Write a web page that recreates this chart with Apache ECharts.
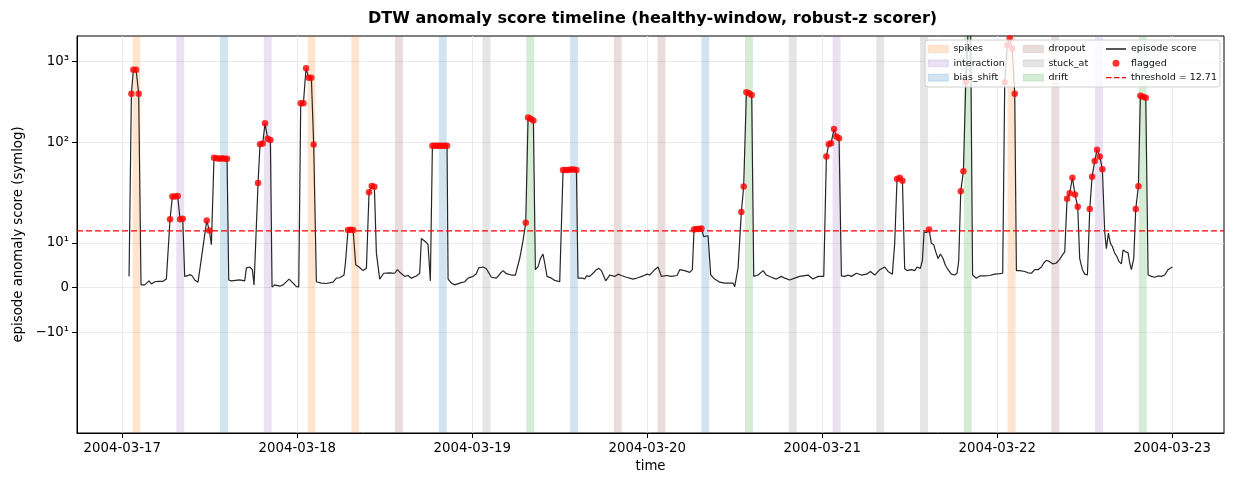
<!DOCTYPE html>
<html>
<head>
<meta charset="utf-8">
<script src="https://cdn.jsdelivr.net/npm/echarts@6/dist/echarts.min.js"></script>
<style>
html,body{margin:0;padding:0;background:#fff;}
#chart{width:1243px;height:485px;}
</style>
</head>
<body>
<div id="chart"></div>
<script>
// ---------------- data (hours since 2004-03-17 00:00) ----------------
const scoreHours = [
0.94,1.26,1.53,1.90,2.26,2.58,3.09,3.68,4.00,4.46,4.91,5.60,6.06,6.29,6.56,6.88,7.25,7.61,7.93,8.30,
8.57,8.89,9.26,9.62,9.94,10.40,10.63,11.59,11.95,12.23,12.59,12.96,13.33,13.69,14.06,14.38,14.61,14.97,15.20,16.11,
16.80,17.03,17.49,17.85,18.08,18.63,18.90,19.27,19.59,19.95,20.32,20.55,20.91,21.60,22.06,22.88,23.43,23.89,24.21,24.48,
24.85,25.21,25.58,25.94,26.26,26.63,27.31,28.00,28.91,29.37,29.83,30.42,30.61,30.97,31.31,31.66,32.02,32.48,33.03,33.49,
33.85,34.22,34.58,34.86,35.31,35.86,36.69,37.37,37.74,38.15,38.74,39.20,39.66,40.34,40.80,41.03,41.71,41.94,42.26,42.54,
42.88,43.22,43.55,43.89,44.22,44.55,44.69,45.14,45.60,46.29,46.97,47.43,48.11,48.57,48.89,49.49,49.94,50.63,51.31,51.86,
52.23,52.69,53.37,53.92,54.51,54.97,55.34,55.66,56.02,56.39,56.66,57.03,57.35,57.71,57.94,58.26,58.86,59.31,60.00,60.23,
60.46,60.82,61.19,61.55,61.92,62.29,62.51,63.11,63.43,63.66,64.11,64.57,65.03,65.39,65.71,66.31,66.86,67.54,68.00,68.46,
69.14,70.06,70.74,71.43,71.98,72.34,73.03,73.49,73.94,74.63,75.31,76.09,76.46,77.14,77.83,78.19,78.42,78.74,79.11,79.43,
79.75,80.02,80.34,80.71,81.26,81.94,82.63,83.31,83.77,84.00,84.46,84.91,85.23,85.60,85.97,86.33,86.61,87.20,87.89,88.34,
89.03,89.71,90.40,90.86,91.54,92.23,92.91,94.06,94.74,95.43,96.21,96.57,96.89,97.21,97.62,97.94,98.31,98.63,99.09,99.54,
100.00,100.69,101.37,102.06,102.61,103.20,103.89,104.57,105.03,105.62,105.94,106.26,106.63,107.00,107.31,107.63,108.23,108.69,109.00,109.46,
109.74,109.97,110.29,110.65,110.97,111.29,111.57,111.89,112.21,112.57,112.89,113.26,113.71,114.17,114.49,114.72,115.00,115.36,115.69,116.02,
116.35,116.62,116.78,117.14,117.60,118.29,118.97,119.66,120.34,120.75,121.03,121.37,121.71,122.06,122.40,122.63,123.09,123.77,124.23,124.69,
125.14,125.60,126.06,126.38,126.74,127.20,127.66,128.11,128.57,128.94,129.26,129.58,129.94,130.31,130.67,131.04,131.31,131.68,132.00,132.37,
132.69,133.01,133.37,133.69,134.06,134.42,134.74,134.97,135.25,135.52,135.79,136.11,136.43,136.71,137.03,137.26,137.62,137.94,138.17,138.40,
138.72,139.00,139.36,139.63,140.00,140.37,140.69,141.14,141.60,142.06,142.51,142.97,143.43,144.02
];
const scoreValues = [
2.5,400,795,795,400,0.6,0.6,1.5,0.8,1.3,1.4,1.4,1.9,2.1,15.3,21,21,21.3,15.3,15.4,
2.5,2.6,2.9,2.6,1.7,1.2,1.2,15,12.8,9.6,64,63,62,63,62,62,1.7,1.5,1.9,1.7,
1.5,4.4,4.6,4.0,0.6,31,94,96,172,110,106,0.1,0.6,0.3,0.6,1.9,1.0,0.2,0.15,304,
304,830,630,630,93,1.3,1.0,0.9,1.2,2.1,2.2,2.8,5.5,12.9,12.95,12.9,5.1,4.6,3.8,4.3,
23.7,28.5,27.9,7.7,1.9,3.2,3.3,3.2,4.0,3.3,2.5,2.7,2.1,2.6,3.2,11,10.1,9.6,1.5,90,
90,90,90,90,90,90,1.9,1.0,0.6,1.0,1.3,2.1,2.5,3.1,4.4,4.6,4.2,2.3,2.1,3.2,
3.8,3.1,2.8,2.8,6.5,10.5,14.5,203,195,185,4.0,4.7,6.5,7.5,5.5,2.5,2.1,1.6,1.3,1.3,
45,45,45,45.5,45.5,45,2.1,2.1,1.9,2.6,2.5,3.2,4.0,4.3,3.8,1.5,2.8,2.5,3.0,2.7,
2.3,1.9,2.2,2.6,3.0,2.8,4.0,4.6,2.5,2.7,2.5,2.7,4.0,3.8,3.4,4.0,13.0,13.1,13.1,13.2,
11.4,11.0,11.6,2.8,1.9,1.2,1.0,1.0,1.0,0.2,4.4,16.9,28,417,405,385,2.5,2.8,3.8,2.8,
2.3,1.9,2.5,2.1,1.7,2.1,2.5,2.8,1.9,2.5,2.5,66,94,97,145,117,112,2.6,2.5,2.8,
2.5,3.2,2.8,3.0,3.6,2.8,4.0,4.6,3.6,3.0,9.9,34.7,36,33,4.2,3.8,4.0,3.8,4.6,4.3,
6.1,12.5,12.3,13.0,9.9,9.6,8.0,6.5,7.5,6.5,5.0,4.0,3.0,2.8,3.2,6.0,24.5,43.5,560,2600,
2400,2.8,2.5,2.1,2.6,2.6,2.7,3.0,3.1,3.2,555,1620,1940,1450,400,3.8,3.8,3.6,3.3,3.2,
4.0,4.0,4.6,5.5,6.1,5.8,5.3,5.5,6.3,7.3,8.0,19.9,23.1,36,22.2,18.1,6.5,4.0,3.0,2.8,
17.6,37,58,80,66,46,12.5,8.7,12.2,9.9,9.2,7.7,6.9,5.8,5.3,8.4,8.0,7.8,5.5,4.0,
6.5,17.6,28.3,378,367,355,2.8,2.5,2.3,2.6,2.5,2.8,4.0,4.6
];
const threshold = 12.71;

// injected-anomaly windows (start hour, type)
const bandStartHours = [1.42,7.42,13.42,19.42,25.42,31.42,37.42,43.42,49.42,55.42,61.42,67.42,
  73.42,79.42,85.42,91.42,97.42,103.42,109.42,115.42,121.42,127.42,133.42,139.42];
const bandTypes = ['spikes','interaction','bias_shift','interaction','spikes','spikes','dropout','bias_shift',
  'stuck_at','drift','bias_shift','dropout','dropout','bias_shift','drift','stuck_at',
  'interaction','stuck_at','stuck_at','drift','spikes','dropout','interaction','drift'];
const bandLengthHours = 1.08;
const anomalyTypes = ['spikes','interaction','bias_shift','dropout','stuck_at','drift'];
const typeColors = ['rgba(255,127,14,0.2)','rgba(148,103,189,0.2)','rgba(31,119,180,0.2)',
  'rgba(140,86,75,0.2)','rgba(127,127,127,0.2)','rgba(44,160,44,0.2)'];

const dayTickLabels = ['2004-03-17','2004-03-18','2004-03-19','2004-03-20','2004-03-21','2004-03-22','2004-03-23'];
const yTickValues = [-10, 0, 10, 100, 1000];
const yTickLabels = ['\u221210\u00b9', '0', '10\u00b9', '10\u00b2', '10\u00b3'];
const yLimits = [-100, 2090];
const xLimitHours = [-6.2, 151.1];

// ---------------- helpers ----------------
const LINTHRESH = 20, LINSCALE_ADJ = 1 / (1 - 1 / 10);
function symlog(v) {
  const a = Math.abs(v);
  if (a <= LINTHRESH) return v * LINSCALE_ADJ;
  return Math.sign(v) * LINTHRESH * (LINSCALE_ADJ + Math.log10(a / LINTHRESH));
}
const BASE = Date.UTC(2004, 2, 17);
const parseDayHours = s => { const p = s.split('-').map(Number); return (Date.UTC(p[0], p[1] - 1, p[2]) - BASE) / 3600e3; };
const dayTickHours = dayTickLabels.map(parseDayHours);
const yTickPos = yTickValues.map(symlog);
const nearestIndex = (arr, v) => { let b = 0; arr.forEach((p, i) => { if (Math.abs(p - v) < Math.abs(arr[b] - v)) b = i; }); return b; };

const FONT = 'DejaVu Sans';

const scoreData = scoreHours.map((h, i) => [h, symlog(scoreValues[i])]);
const flaggedData = scoreHours.map((h, i) => [h, scoreValues[i]])
  .filter(p => p[1] > threshold)
  .map(p => [p[0], symlog(p[1])]);

const bandSeries = anomalyTypes.map((t, ti) => ({
  type: 'line', name: t, data: [], z: 1, silent: true,
  itemStyle: { color: typeColors[ti] },
  markArea: {
    silent: true,
    itemStyle: { color: typeColors[ti], borderWidth: 0 },
    data: bandStartHours.map((h, i) => [h, bandTypes[i]]).filter(p => p[1] === t)
      .map(p => [{ xAxis: p[0] }, { xAxis: p[0] + bandLengthHours }])
  }
}));

const legendCommon = {
  orient: 'vertical', itemWidth: 20, itemHeight: 7, itemGap: 2.3, padding: 0,
  selectedMode: false, z: 20,
  textStyle: { fontSize: 9.5, fontFamily: FONT, color: '#111', lineHeight: 12 }
};
const patchItem = (t) => ({ name: t, icon: 'rect', itemStyle: { color: typeColors[anomalyTypes.indexOf(t)], borderColor: typeColors[anomalyTypes.indexOf(t)], borderWidth: 0.8 } });
const speck = 'M0,0h0.01v0.01h-0.01z M19.99,6.99h0.01v0.01h-0.01z ';

const chart = echarts.init(document.getElementById('chart'), null, { renderer: 'canvas' });
chart.setOption({
  animation: false,
  backgroundColor: '#ffffff',
  title: {
    text: 'DTW anomaly score timeline (healthy-window, robust-z scorer)',
    left: 368, top: 11, padding: 0,
    textStyle: { fontSize: 16, fontWeight: 'bold', fontFamily: FONT, color: '#000' }
  },
  grid: { left: 77, right: 19, top: 36, bottom: 52, show: true, borderColor: '#000', borderWidth: 1, backgroundColor: 'transparent' },
  graphic: [{
    type: 'rect', z: 10, silent: true,
    shape: { x: 925, y: 40, width: 295, height: 47, r: 3 },
    style: { fill: 'rgba(255,255,255,0.8)', stroke: '#d0d0d0', lineWidth: 1 }
  }],
  legend: [
    Object.assign({ left: 928, top: 43, data: ['spikes', 'interaction', 'bias_shift'].map(patchItem) }, legendCommon),
    Object.assign({ left: 1023, top: 43, data: ['dropout', 'stuck_at', 'drift'].map(patchItem) }, legendCommon),
    Object.assign({ left: 1106, top: 43, data: [
      { name: 'episode score', icon: 'path://' + speck + 'M0,2.85h20v1.4h-20z', itemStyle: { color: '#222', borderWidth: 0 } },
      { name: 'flagged', icon: 'circle', itemStyle: { color: '#ff0000', borderWidth: 0 } },
      { name: 'threshold = 12.71', icon: 'path://' + speck + 'M0,2.85h5.5v1.4h-5.5z M7.9,2.85h5.5v1.4h-5.5z M15.8,2.85h4.2v1.4h-4.2z', itemStyle: { color: '#ff0000', borderWidth: 0 } }
    ] }, legendCommon)
  ],
  xAxis: {
    type: 'value', min: xLimitHours[0], max: xLimitHours[1],
    name: 'time', nameLocation: 'middle', nameGap: 27,
    nameTextStyle: { fontSize: 13.3, fontFamily: FONT, color: '#000' },
    axisLine: { show: true, onZero: false, lineStyle: { color: '#000', width: 1 } },
    axisTick: { show: true, length: 5, lineStyle: { color: '#000', width: 1 }, customValues: dayTickHours },
    axisLabel: {
      customValues: dayTickHours, fontSize: 13.3, fontFamily: FONT, color: '#000', margin: 9,
      formatter: v => dayTickLabels[nearestIndex(dayTickHours, v)]
    },
    splitLine: { show: true, lineStyle: { color: '#e6e6e6', width: 0.8 } }
  },
  yAxis: {
    type: 'value', min: symlog(yLimits[0]), max: symlog(yLimits[1]),
    name: 'episode anomaly score (symlog)', nameLocation: 'middle', nameGap: 47,
    nameTextStyle: { fontSize: 13.3, fontFamily: FONT, color: '#000' },
    axisLine: { show: true, onZero: false, lineStyle: { color: '#000', width: 1 } },
    axisTick: { show: true, length: 5, lineStyle: { color: '#000', width: 1 }, customValues: yTickPos },
    axisLabel: {
      customValues: yTickPos, fontSize: 13.3, fontFamily: FONT, color: '#000', margin: 8,
      formatter: v => yTickLabels[nearestIndex(yTickPos, v)]
    },
    splitLine: { show: true, lineStyle: { color: '#e6e6e6', width: 0.8 } }
  },
  series: bandSeries.concat([
    {
      type: 'line', name: 'episode score', data: scoreData, symbol: 'none', showSymbol: false,
      lineStyle: { color: '#262626', width: 1.2 }, itemStyle: { color: '#262626' }, z: 3, clip: true, silent: true
    },
    {
      type: 'line', name: 'threshold = 12.71',
      data: [[xLimitHours[0], symlog(threshold)], [xLimitHours[1], symlog(threshold)]],
      symbol: 'none', lineStyle: { color: '#ff0000', width: 1.3, type: [6, 3] }, itemStyle: { color: '#ff0000' }, z: 4, silent: true
    },
    {
      type: 'scatter', name: 'flagged', data: flaggedData, symbolSize: 6.5,
      itemStyle: { color: '#ff0000' }, z: 5, clip: true, silent: true
    }
  ])
});
</script>
</body>
</html>
